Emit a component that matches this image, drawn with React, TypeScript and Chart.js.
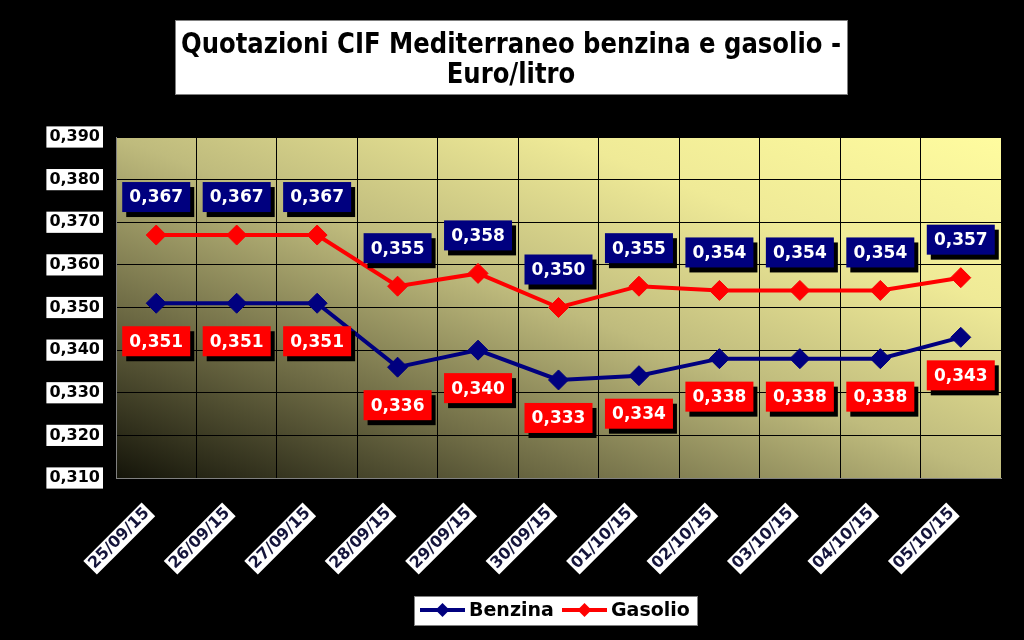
import React, { useEffect, useRef } from 'react';
import { Chart, registerables } from 'chart.js';

Chart.register(...registerables);

const categories = ['25/09/15', '26/09/15', '27/09/15', '28/09/15', '29/09/15', '30/09/15', '01/10/15', '02/10/15', '03/10/15', '04/10/15', '05/10/15'];
const benzina = [0.351, 0.351, 0.351, 0.336, 0.340, 0.333, 0.334, 0.338, 0.338, 0.338, 0.343];
const gasolio = [0.367, 0.367, 0.367, 0.355, 0.358, 0.350, 0.355, 0.354, 0.354, 0.354, 0.357];
const yMin = 0.31;
const yMax = 0.39;
const yStep = 0.01;
const titleLines = ['Quotazioni CIF Mediterraneo benzina e gasolio -', 'Euro/litro'];
const seriesNames = ['Benzina', 'Gasolio'];

const NAVY = '#00007f';
const RED = '#ff0000';
const fmt = (v: number) => v.toFixed(3).replace('.', ',');

const decorPlugin = {
  id: 'decor',
  beforeDraw(chart: any) {
    const { ctx, chartArea: a, width, height } = chart;
    ctx.save();
    ctx.fillStyle = '#000';
    ctx.fillRect(0, 0, width, height);
    const W = a.right - a.left;
    const H = a.bottom - a.top;
    const ax = 1 / (2 * W), ay = -1 / (2 * H);
    const n2 = ax * ax + ay * ay;
    const dx = ax / n2, dy = ay / n2;
    const g = ctx.createLinearGradient(a.left, a.bottom, a.left + dx, a.bottom + dy);
    g.addColorStop(0, '#141409');
    g.addColorStop(0.25, '#6d6a44');
    g.addColorStop(0.5, '#bfbb7d');
    g.addColorStop(0.75, '#efea97');
    g.addColorStop(1, '#fffc9f');
    ctx.fillStyle = g;
    ctx.fillRect(a.left, a.top, W, H);
    ctx.restore();
  },
  afterDatasetsDraw(chart: any) {
    const { ctx } = chart;
    const xs = chart.scales.x;
    const ys = chart.scales.y;
    const drawBox = (cx: number, cy: number, txt: string, fill: string) => {
      const w = 68, h = 30;
      ctx.fillStyle = '#000';
      ctx.fillRect(cx - w / 2 + 4, cy - h / 2 + 5, w, h);
      ctx.fillStyle = fill;
      ctx.fillRect(cx - w / 2, cy - h / 2, w, h);
      ctx.fillStyle = '#fff';
      ctx.font = 'bold 17px "DejaVu Sans"';
      ctx.textAlign = 'center';
      ctx.textBaseline = 'middle';
      ctx.fillText(txt, cx, cy + 1);
    };
    ctx.save();
    categories.forEach((_, i) => {
      const x = xs.getPixelForValue(i);
      drawBox(x, ys.getPixelForValue(gasolio[i]) - 38, fmt(gasolio[i]), NAVY);
      drawBox(x, ys.getPixelForValue(benzina[i]) + 38, fmt(benzina[i]), RED);
    });
    ctx.restore();
  },
  afterDraw(chart: any) {
    const { ctx } = chart;
    ctx.save();
    // title box
    ctx.fillStyle = '#fff';
    ctx.fillRect(175, 20, 672, 74);
    ctx.strokeStyle = '#808080';
    ctx.lineWidth = 1;
    ctx.strokeRect(175.5, 20.5, 672, 74);
    ctx.fillStyle = '#000';
    ctx.font = 'bold 29px "DejaVu Sans"';
    ctx.textBaseline = 'middle';
    ctx.textAlign = 'center';
    const m = ctx.measureText(titleLines[0]).width;
    const s = Math.min(1, 660 / m);
    ctx.save();
    ctx.translate(511, 0);
    ctx.scale(s, 1);
    ctx.fillText(titleLines[0], 0, 45);
    ctx.fillText(titleLines[1], 0, 75);
    ctx.restore();

    // legend
    ctx.fillStyle = '#fff';
    ctx.fillRect(414, 596, 283, 29);
    ctx.strokeStyle = '#808080';
    ctx.strokeRect(414.5, 596.5, 283, 29);
    const items = [
      { x: 420, color: NAVY, name: seriesNames[0] },
      { x: 562, color: RED, name: seriesNames[1] },
    ];
    items.forEach((it) => {
      const y = 610;
      ctx.strokeStyle = it.color;
      ctx.lineWidth = 4;
      ctx.beginPath();
      ctx.moveTo(it.x, y);
      ctx.lineTo(it.x + 45, y);
      ctx.stroke();
      ctx.fillStyle = it.color;
      const cx = it.x + 22.5, r = 7;
      ctx.beginPath();
      ctx.moveTo(cx, y - r);
      ctx.lineTo(cx + r, y);
      ctx.lineTo(cx, y + r);
      ctx.lineTo(cx - r, y);
      ctx.closePath();
      ctx.fill();
      ctx.fillStyle = '#000';
      ctx.font = 'bold 19px "DejaVu Sans"';
      ctx.textAlign = 'left';
      ctx.textBaseline = 'middle';
      ctx.fillText(it.name, it.x + 49, y + 1);
    });
    ctx.restore();
  },
};

export default function App() {
  const ref = useRef<HTMLCanvasElement | null>(null);
  useEffect(() => {
    if (!ref.current) return;
    const chart = new Chart(ref.current, {
      type: 'line',
      data: {
        labels: categories,
        datasets: [
          {
            label: seriesNames[0],
            data: benzina,
            borderColor: NAVY,
            backgroundColor: NAVY,
            borderWidth: 4,
            pointStyle: 'rectRot',
            pointRadius: 10,
            pointBorderWidth: 1,
            tension: 0,
          },
          {
            label: seriesNames[1],
            data: gasolio,
            borderColor: RED,
            backgroundColor: RED,
            borderWidth: 4,
            pointStyle: 'rectRot',
            pointRadius: 10,
            pointBorderWidth: 1,
            tension: 0,
          },
        ],
      },
      options: {
        animation: false,
        responsive: false,
        devicePixelRatio: 1,
        layout: { padding: { top: 137, left: 0, right: 23, bottom: 0 } },
        plugins: {
          legend: { display: false },
          title: { display: false },
          tooltip: { enabled: false },
        },
        scales: {
          x: {
            offset: true,
            grid: { color: '#000', offset: true, drawTicks: false, lineWidth: 1 },
            border: { color: '#808080', width: 1 },
            ticks: {
              maxRotation: 45,
              minRotation: 45,
              autoSkip: false,
              padding: 26,
              labelOffset: -16,
              color: '#14143a',
              font: { family: '"DejaVu Sans"', weight: 'bold', size: 16 },
              showLabelBackdrop: true,
              backdropColor: '#ffffff',
              backdropPadding: { top: 0, bottom: 0, left: 2, right: 2 },
            },
            afterFit: (s: any) => { s.height = 162; },
          },
          y: {
            min: yMin,
            max: yMax,
            grid: { color: '#000', drawTicks: false, lineWidth: 1 },
            border: { color: '#808080', width: 1 },
            ticks: {
              stepSize: yStep,
              padding: 16,
              color: '#000',
              font: { family: '"DejaVu Sans"', weight: 'bold', size: 16 },
              callback: (v: any) => fmt(Number(v)),
              showLabelBackdrop: true,
              backdropColor: '#ffffff',
              backdropPadding: { top: 1, bottom: 1, left: 3, right: 3 },
            },
            afterFit: (s: any) => { s.width = 116; },
          },
        },
      } as any,
      plugins: [decorPlugin],
    });
    return () => chart.destroy();
  }, []);
  return (
    <div style={{ position: 'fixed', left: 0, top: 0, width: 1024, height: 640, background: '#000' }}>
      <canvas ref={ref} width={1024} height={640} style={{ display: 'block' }} />
    </div>
  );
}
